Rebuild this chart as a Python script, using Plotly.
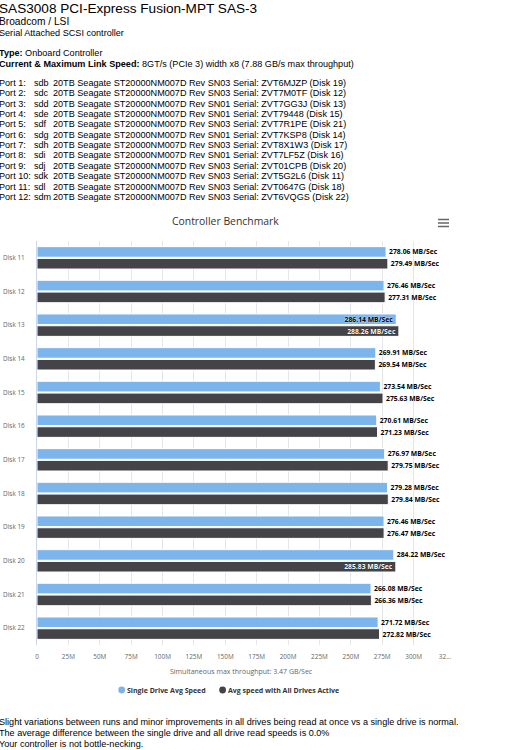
import plotly.graph_objects as go

# ---------------- data ----------------
disks = ["Disk 11", "Disk 12", "Disk 13", "Disk 14", "Disk 15", "Disk 16",
         "Disk 17", "Disk 18", "Disk 19", "Disk 20", "Disk 21", "Disk 22"]
single_speed = [278.06, 276.46, 286.14, 269.91, 273.54, 270.61,
                276.97, 279.28, 276.46, 284.22, 266.08, 271.72]
all_active_speed = [279.49, 277.31, 288.26, 269.54, 275.63, 271.23,
                    279.75, 279.84, 276.47, 285.83, 266.36, 272.82]
tick_vals = [0, 25, 50, 75, 100, 125, 150, 175, 200, 225, 250, 275, 300, 325]
tick_text = ["0", "25M", "50M", "75M", "100M", "125M", "150M", "175M", "200M",
             "225M", "250M", "275M", "300M", "32..."]

ports = ["Port 1:", "Port 2:", "Port 3:", "Port 4:", "Port 5:", "Port 6:",
         "Port 7:", "Port 8:", "Port 9:", "Port 10:", "Port 11:", "Port 12:"]
devices = ["sdb", "sdc", "sdd", "sde", "sdf", "sdg", "sdh", "sdi", "sdj", "sdk", "sdl", "sdm"]
revs = ["SN03", "SN03", "SN01", "SN01", "SN03", "SN01", "SN03", "SN01", "SN03", "SN03", "SN03", "SN03"]
serials = ["ZVT6MJZP", "ZVT7M0TF", "ZVT7GG3J", "ZVT79448", "ZVT7R1PE", "ZVT7KSP8",
           "ZVT8X1W3", "ZVT7LF5Z", "ZVT01CPB", "ZVT5G2L6", "ZVT0647G", "ZVT6VQGS"]
port_disks = [19, 12, 13, 15, 21, 14, 17, 16, 20, 11, 18, 22]
drive_model = "20TB Seagate ST20000NM007D"

footer_lines = [
    "Slight variations between runs and minor improvements in all drives being read at once vs a single drive is normal.",
    "The average difference between the single drive and all drive read speeds is 0.0%",
    "Your controller is not bottle-necking.",
]

# ---------------- geometry helpers ----------------
W, H = 528, 750
L, R, T, B = 37, 445, 241, 645


def px(xp):
    return (xp - L) / (R - L)


def py(yp):
    return (B - yp) / (B - T)


CHART_FONT = "Open Sans"
PAGE_FONT = "Liberation Sans"
inside_threshold = 285.0
LABEL_SIZE = 6.8


def labels(vals):
    return ["%.2f MB/Sec" % v for v in vals]


def positions(vals):
    return ["inside" if v > inside_threshold else "outside" for v in vals]


def bar_trace(vals, name, color, inside_color, inside_shadow):
    return go.Bar(
        orientation="h", y=disks, x=vals, name=name,
        marker=dict(color=color, line=dict(color="#ffffff", width=1)),
        text=labels(vals), textposition=positions(vals),
        insidetextanchor="end", constraintext="none", cliponaxis=False,
        textfont=dict(family=CHART_FONT, size=LABEL_SIZE, color="#000000", weight="bold"),
        insidetextfont=dict(family=CHART_FONT, size=LABEL_SIZE, color=inside_color, weight="bold",
                            shadow=inside_shadow),
        outsidetextfont=dict(family=CHART_FONT, size=LABEL_SIZE, color="#000000", weight="bold",
                             shadow="0px 0px 1px #ffffff"),
        showlegend=False, hoverinfo="x+y",
    )


fig = go.Figure()
fig.add_trace(bar_trace(single_speed, "Single Drive Avg Speed", "#7cb5ec", "#000000",
                        "0px 0px 2px #ffffff"))
fig.add_trace(bar_trace(all_active_speed, "Avg speed with All Drives Active", "#434348", "#ffffff",
                        "0px 0px 1px #000000"))

ann = []
shapes = []


def add_text(x, y, text, size, color="#000000", family=PAGE_FONT, xanchor="left"):
    ann.append(dict(x=px(x), y=py(y), xref="paper", yref="paper", text=text,
                    showarrow=False, xanchor=xanchor, yanchor="middle",
                    borderpad=0, borderwidth=0,
                    font=dict(family=family, size=size, color=color)))


# header
add_text(-1, 9, "SAS3008 PCI-Express Fusion-MPT SAS-3", 13.6)
add_text(-1, 22, "Broadcom / LSI", 10.2)
add_text(-1, 33, "Serial Attached SCSI controller", 9.1)
add_text(-1, 53, "<b>Type:</b> Onboard Controller", 9.1)
add_text(-1, 64, "<b>Current &amp; Maximum Link Speed:</b> 8GT/s (PCIe 3) width x8 (7.88 GB/s max throughput)", 9.1)
for i in range(len(ports)):
    yy = 83 + i * 10.35
    add_text(-1, yy, ports[i], 9.1)
    add_text(33.5, yy, devices[i], 9.1)
    add_text(53, yy, "%s Rev %s Serial: %s (Disk %d)" % (drive_model, revs[i], serials[i], port_disks[i]), 9.1)

# footer
for i, line in enumerate(footer_lines):
    add_text(-1, 722 + i * 10.8, line, 9.1)

# chart title
add_text(225, 221, "Controller Benchmark", 10.4, color="#333333", family=CHART_FONT, xanchor="center")

# x-axis title
add_text(241, 671, "Simultaneous max throughput: 3.47 GB/Sec", 7, color="#666666",
         family=CHART_FONT, xanchor="center")

# legend (circle markers + bold labels)
legend_items = [("Single Drive Avg Speed", "#7cb5ec", 121.7), ("Avg speed with All Drives Active", "#434348", 222.6)]
for name, color, cx in legend_items:
    shapes.append(dict(type="circle", xref="paper", yref="paper", xsizemode="pixel", ysizemode="pixel",
                       xanchor=px(cx), yanchor=py(690), x0=-3.4, x1=3.4, y0=-3.4, y1=3.4,
                       fillcolor=color, line=dict(width=0)))
    add_text(cx + 5.5, 690, "<b>%s</b>" % name, 7, color="#333333", family=CHART_FONT)

# hamburger menu icon
for yy in (219.5, 223, 226.5):
    shapes.append(dict(type="line", xref="paper", yref="paper", x0=px(438), x1=px(449),
                       y0=py(yy), y1=py(yy), line=dict(color="#666666", width=1.5)))

fig.update_layout(
    width=W, height=H, autosize=False,
    margin=dict(l=L, r=W - R, t=T, b=H - B, pad=0, autoexpand=False),
    paper_bgcolor="#ffffff", plot_bgcolor="#ffffff",
    barmode="group", bargap=0.3, bargroupgap=0.1,
    font=dict(family=CHART_FONT, color="#666666"),
    showlegend=False,
    annotations=ann, shapes=shapes,
    xaxis=dict(range=[0, 325], tickvals=tick_vals, ticktext=tick_text, automargin=False,
               showgrid=True, gridcolor="#e6e6e6", gridwidth=1, zeroline=False,
               showline=False, ticks="", tickfont=dict(size=6.4, color="#666666"),
               ticklabelstandoff=7, fixedrange=True),
    yaxis=dict(type="category", autorange="reversed", showgrid=False, zeroline=False,
               automargin=False,
               showline=True, linecolor="#ccd6eb", linewidth=1, ticks="",
               tickfont=dict(size=6.4, color="#666666"), ticklabelstandoff=10, fixedrange=True),
)

fig.write_html("out.html", config={"displayModeBar": False})
